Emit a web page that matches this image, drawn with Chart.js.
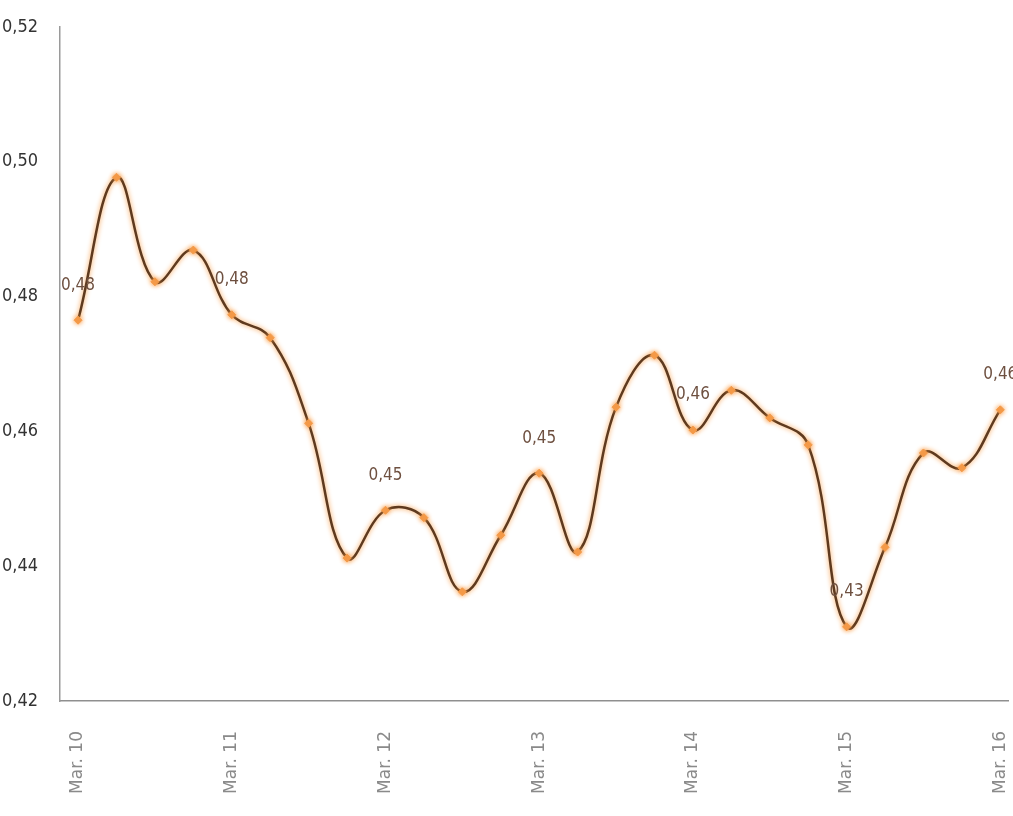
<!DOCTYPE html>
<html>
<head>
<meta charset="utf-8">
<script src="https://cdn.jsdelivr.net/npm/chart.js@4"></script>
<style>
  html, body { margin: 0; padding: 0; background: #fff; }
  #wrap { width: 1013px; height: 816px; }
</style>
</head>
<body>
<div id="wrap"><canvas id="rateChart" width="1013" height="816"></canvas></div>
<script>
// quarterly points, Mar. 10 .. Mar. 16
const pointIndex = [0, 1, 2, 3, 4, 5, 6, 7, 8, 9, 10, 11, 12, 13, 14, 15, 16, 17, 18, 19, 20, 21, 22, 23, 24];
const rateValues = [0.4765, 0.4977, 0.4822, 0.4869, 0.4773, 0.4739, 0.4612, 0.4412, 0.4483, 0.4472,
                    0.4362, 0.4446, 0.4538, 0.4421, 0.4636, 0.4713, 0.4602, 0.4661, 0.4620, 0.4580,
                    0.4310, 0.4428, 0.4568, 0.4546, 0.4632];
const tickLabels = ['Mar. 10', 'Mar. 11', 'Mar. 12', 'Mar. 13', 'Mar. 14', 'Mar. 15', 'Mar. 16'];
const labelEvery = 4;

const narrowFont = '"DejaVu Sans Condensed", "Liberation Sans Narrow", sans-serif';
const fmt = v => v.toFixed(2).replace('.', ',');

// orange halo round the brown line
const glowPlugin = {
    id: 'glow',
    beforeDatasetDraw(chart) {
        const ctx = chart.ctx;
        ctx.save();
        ctx.shadowColor = 'rgba(246,150,60,1)';
        ctx.shadowBlur = 5;
    },
    afterDatasetDraw(chart) {
        chart.ctx.restore();
    }
};

// value labels on whole years
const valueLabels = {
    id: 'valueLabels',
    afterDatasetsDraw(chart) {
        const ctx = chart.ctx;
        const meta = chart.getDatasetMeta(0);
        ctx.save();
        ctx.font = '17px ' + narrowFont;
        ctx.fillStyle = '#6e5040';
        ctx.textAlign = 'center';
        ctx.textBaseline = 'middle';
        meta.data.forEach((pt, i) => {
            if (i % labelEvery !== 0) return;
            ctx.fillText(fmt(rateValues[i]), pt.x, pt.y - 35);
        });
        ctx.restore();
    }
};

const ctx = document.getElementById('rateChart').getContext('2d');
new Chart(ctx, {
    type: 'line',
    data: {
        datasets: [{
            data: pointIndex.map((x, i) => ({ x: x, y: rateValues[i] })),
            borderColor: '#5e3a1f',
            borderWidth: 2.5,
            tension: 0.4,
            pointStyle: 'rectRot',
            pointRadius: 4,
            pointBackgroundColor: '#f39a4a',
            pointBorderColor: '#f39a4a',
            pointBorderWidth: 1,
            clip: false
        }]
    },
    options: {
        responsive: false,
        animation: false,
        layout: { padding: { top: 27, right: 0, left: 0, bottom: 0 } },
        plugins: {
            legend: { display: false },
            tooltip: { enabled: false }
        },
        scales: {
            x: {
                type: 'linear',
                min: -0.47,
                max: 24.2,
                grid: { display: false },
                border: { display: true, color: '#8f8f8f', width: 1.5 },
                afterBuildTicks: scale => {
                    scale.ticks = tickLabels.map((t, i) => ({ value: i * labelEvery }));
                },
                afterFit: scale => {
                    scale.height = 115;
                    scale.paddingLeft = 0;
                    scale.paddingRight = 0;
                },
                ticks: {
                    autoSkip: false,
                    minRotation: 90,
                    maxRotation: 90,
                    padding: 22,
                    color: '#8a8a8a',
                    font: { family: '"DejaVu Sans", sans-serif', size: 17 },
                    callback: v => tickLabels[v / labelEvery]
                }
            },
            y: {
                min: 0.42,
                max: 0.52,
                grid: { display: false },
                border: { display: true, color: '#9a9a9a', width: 1.5 },
                afterFit: scale => { scale.width = 60; },
                ticks: {
                    stepSize: 0.02,
                    padding: 14,
                    color: '#333',
                    font: { family: narrowFont, size: 18 },
                    callback: v => fmt(v)
                }
            }
        }
    },
    plugins: [glowPlugin, valueLabels]
});
</script>
</body>
</html>
